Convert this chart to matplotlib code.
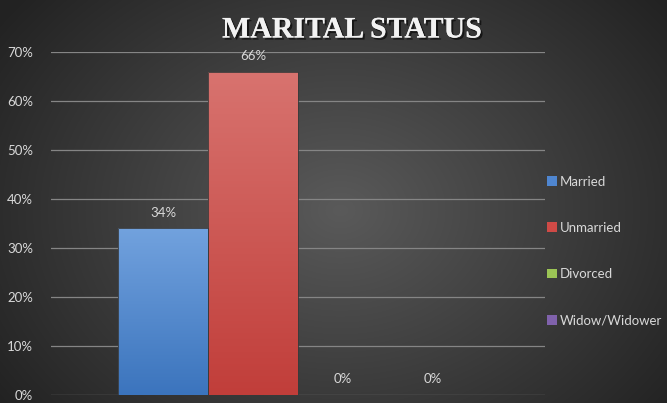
import numpy as np
import matplotlib
matplotlib.use("Agg")
import matplotlib.pyplot as plt
import matplotlib.patheffects as pe
from matplotlib.patches import Patch

categories = ["Married", "Unmarried", "Divorced", "Widow/Widower"]
values = [34, 66, 0, 0]
labels = ["34%", "66%", "0%", "0%"]
yticks = [0, 10, 20, 30, 40, 50, 60, 70]
ytick_labels = ["0%", "10%", "20%", "30%", "40%", "50%", "60%", "70%"]
top_colors = ["#72a2de", "#d8736f", "#b5d67a", "#9a80c0"]
bot_colors = ["#3b74bd", "#c13e3a", "#8db543", "#7456a3"]
legend_colors = ["#4f86d0", "#cf4a46", "#9bc455", "#8062ac"]

fig = plt.figure(figsize=(6.67, 4.03), dpi=100)

# radial gradient background
bg = fig.add_axes([0, 0, 1, 1])
bg.set_axis_off()
yy, xx = np.mgrid[0:403, 0:667]
cx, cy = 340, 210
d = np.sqrt(((xx - cx) / 420.0) ** 2 + ((yy - cy) / 330.0) ** 2)
d = np.clip(d, 0, 1)
inner = np.array([0x5a, 0x5a, 0x5a]) / 255.0
outer = np.array([0x22, 0x22, 0x22]) / 255.0
img = inner[None, None, :] * (1 - d[..., None]) + outer[None, None, :] * d[..., None]
bg.imshow(img, extent=[0, 1, 0, 1], aspect="auto", zorder=0)
bg.set_xlim(0, 1)
bg.set_ylim(0, 1)

ax = fig.add_axes([51 / 667, 1 - 395 / 403, (545 - 51) / 667, (395 - 52) / 403])
ax.patch.set_alpha(0)
ax.set_xlim(-0.5, 0.5)
ax.set_ylim(0, 70)

w = 90 / 494
offsets = (np.arange(len(categories)) - 1.5) * w
grid_color = "#858585"
for t in yticks:
    ax.axhline(t, color=grid_color, lw=0.9, zorder=1)

font = "Lato"
txt_color = "#d9d9d9"
for i, (off, v) in enumerate(zip(offsets, values)):
    bars = ax.bar(off, v, width=w, color="none", edgecolor="#3a3a3a", lw=0.6, zorder=3)
    rect = bars[0]
    if v > 0:
        grad = np.linspace(0, 1, 256)[:, None]
        c1 = np.array(matplotlib.colors.to_rgb(top_colors[i]))
        c2 = np.array(matplotlib.colors.to_rgb(bot_colors[i]))
        gimg = c1[None, None, :] * (1 - grad[..., None]) + c2[None, None, :] * grad[..., None]
        gimg = np.repeat(gimg, 2, axis=1)
        im = ax.imshow(gimg, extent=[off - w / 2, off + w / 2, 0, v], aspect="auto", zorder=2)
        im.set_clip_path(rect)
    ax.text(off, v + 2.0, labels[i], ha="center", va="bottom", color=txt_color,
            fontsize=9.5, family=font)

ax.set_xlim(-0.5, 0.5)
ax.set_ylim(0, 70)
ax.set_xticks([])
ax.set_yticks(yticks)
ax.set_yticklabels(ytick_labels, family=font, fontsize=9.5, color=txt_color)
ax.tick_params(axis="y", length=0, pad=13)
for s in ax.spines.values():
    s.set_visible(False)

fig.text(352 / 667, 1 - 30 / 403, "MARITAL STATUS", ha="center", va="center",
         family="Liberation Serif", fontweight="bold", fontsize=21.5, color="#f2f2f2",
         path_effects=[pe.withSimplePatchShadow(offset=(1.5, -1.5), shadow_rgbFace="black", alpha=0.6),
                       pe.Normal()])

handles = [Patch(facecolor=c, edgecolor="none") for c in legend_colors]
leg = fig.legend(handles, categories, loc="center left", bbox_to_anchor=(535 / 667, 1 - 251 / 403),
                 frameon=False, labelspacing=2.6, handlelength=0.75, handleheight=0.75,
                 handletextpad=0.25, prop={"family": font, "size": 9.5})
for t in leg.get_texts():
    t.set_color(txt_color)

fig.savefig("out.png", dpi=100)
